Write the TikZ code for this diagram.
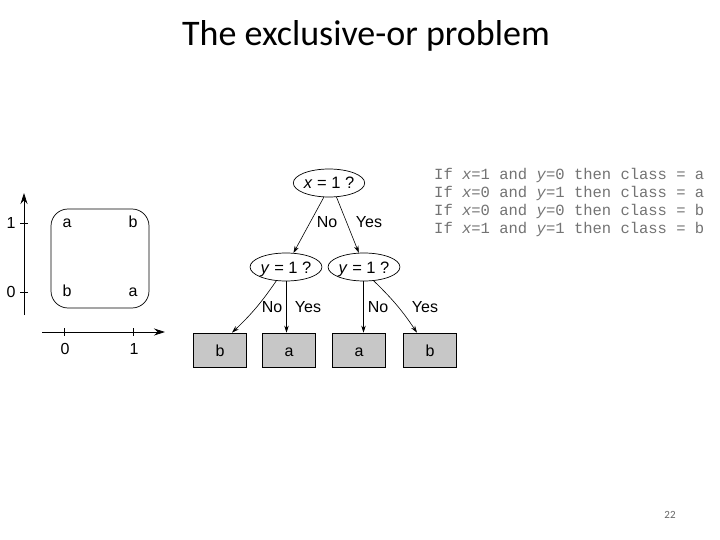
\documentclass[tikz,border=0pt]{standalone}
\usepackage{fontspec}
\setmainfont{Liberation Sans}
\newfontfamily\titlefont{Carlito}
\newfontfamily\rulefont{Liberation Mono}
\usetikzlibrary{arrows.meta,shapes.geometric}
\tikzset{
  px/.style={x=1pt,y=-1pt},
  lbl/.style={font=\fontsize{16}{18}\selectfont, inner sep=0pt, text height=12pt, text depth=0pt},
  qnode/.style={draw, ellipse, line width=0.7pt, minimum width=#1, minimum height=28pt, inner sep=0pt, text height=12pt, text depth=0pt, font=\fontsize{16.5}{18}\selectfont},
  leaf/.style={draw, fill=black!22, line width=0.7pt, minimum width=53pt, minimum height=34pt, inner sep=0pt, text height=12pt, text depth=0pt, font=\fontsize{16}{18}\selectfont},
  edge/.style={line width=0.6pt, -{Stealth[length=7pt,width=4.5pt]}},
  axis/.style={line width=0.8pt, -{Stealth[length=11pt,width=7pt]}},
  ruletext/.style={font=\rulefont\fontsize{15.5}{18}\selectfont, text=black!55, inner sep=0pt, anchor=west},
}
\begin{document}
\begin{tikzpicture}[px]
\useasboundingbox (0,0) rectangle (720,540);
\fill[white] (0,0) rectangle (720,540);
% title
\node[font=\titlefont\fontsize{36}{40}\selectfont, inner sep=0pt] (title) at (366,36) {The exclusive-or problem};
\node[font=\titlefont\fontsize{11}{13}\selectfont, text=black!60, inner sep=0pt] (pnum) at (670,515) {22};

% left plot
\coordinate (ybot) at (24,315);
\coordinate (ytop) at (24,193);
\coordinate (xl) at (42,332);
\coordinate (xr) at (165,332);
\draw[axis] (ybot) -- (ytop);
\draw[axis] (xl) -- (xr);
\coordinate (ty1a) at (20,223); \coordinate (ty1b) at (28,223);
\coordinate (ty0a) at (20,292); \coordinate (ty0b) at (28,292);
\coordinate (tx0a) at (64,328); \coordinate (tx0b) at (64,336);
\coordinate (tx1a) at (133,328); \coordinate (tx1b) at (133,336);
\draw[line width=0.6pt] (ty1a) -- (ty1b) (ty0a) -- (ty0b) (tx0a) -- (tx0b) (tx1a) -- (tx1b);
\node[lbl] (ly1) at (11,223) {1};
\node[lbl] (ly0) at (11,291) {0};
\node[lbl] (lx0) at (65,348) {0};
\node[lbl] (lx1) at (134,348) {1};
\draw[line width=0.7pt, rounded corners=17pt] (51,209) rectangle (149,308);
\node[lbl] (p11) at (67,222) {a};
\node[lbl] (p21) at (133,222) {b};
\node[lbl] (p12) at (67,290) {b};
\node[lbl] (p22) at (133,290) {a};

% tree
\node[qnode=65pt] (root) at (329,183) {\textit{x} = 1 ?};
\node[qnode=63pt] (left) at (286,267) {\textit{y} = 1 ?};
\node[qnode=61pt] (right) at (364,267) {\textit{y} = 1 ?};
\node[leaf] (l1) at (220,350) {b};
\node[leaf] (l2) at (289,350) {a};
\node[leaf] (l3) at (359,350) {a};
\node[leaf] (l4) at (430,350) {b};

\draw[edge] (root.250) -- (left.62);
\draw[edge] (root.298) -- (right.110);
\draw[edge] (left.235) to[bend left=6] (l1.north -| 232,0);
\draw[edge] (left.272) -- (left.272 |- l2.north);
\draw[edge] (right.268) -- (right.268 |- l3.north);
\draw[edge] (right.305) to[bend left=6] (l4.north -| 417,0);

\node[lbl] (n1) at (327,222) {No};
\node[lbl] (y1) at (369,222) {Yes};
\node[lbl] (n2) at (272,306) {No};
\node[lbl] (y2) at (308,306) {Yes};
\node[lbl] (n3) at (378,306) {No};
\node[lbl] (y3) at (425,306) {Yes};

% rules
\node[ruletext] (r1) at (434,175) {If \textit{x}=1 and \textit{y}=0 then class = a};
\node[ruletext] (r2) at (434,193) {If \textit{x}=0 and \textit{y}=1 then class = a};
\node[ruletext] (r3) at (434,211) {If \textit{x}=0 and \textit{y}=0 then class = b};
\node[ruletext] (r4) at (434,229) {If \textit{x}=1 and \textit{y}=1 then class = b};
\end{tikzpicture}
\end{document}
